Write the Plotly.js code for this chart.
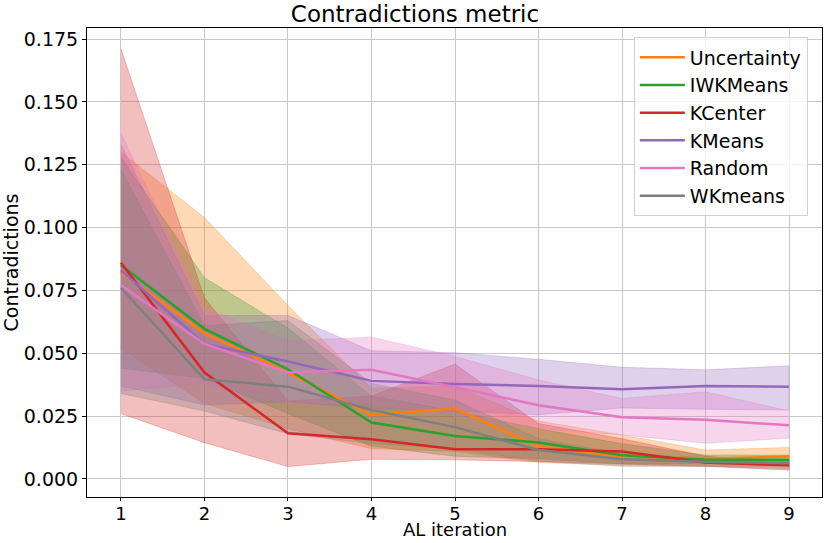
<!DOCTYPE html>
<html>
<head>
<meta charset="utf-8">
<script src="https://cdn.plot.ly/plotly-3.0.1.min.js"></script>
<style>
  html, body { margin: 0; padding: 0; background: #fff; }
  #plot { width: 830px; height: 543px; }
</style>
</head>
<body>
<div id="plot"></div>
<script>
// AL iterations
const iterations = [1, 2, 3, 4, 5, 6, 7, 8, 9];

// mean contradictions per strategy
const uncertaintyMean = [0.082, 0.058, 0.0423, 0.0255, 0.028, 0.0129, 0.0089, 0.0081, 0.0089];
const iwkmeansMean    = [0.085, 0.0597, 0.0436, 0.0224, 0.0171, 0.0145, 0.0094, 0.0076, 0.0076];
const kcenterMean     = [0.086, 0.0423, 0.0182, 0.0158, 0.0118, 0.0118, 0.0109, 0.0065, 0.0054];
const kmeansMean      = [0.083, 0.0537, 0.0467, 0.039, 0.0378, 0.037, 0.0357, 0.037, 0.0367];
const randomMean      = [0.077, 0.0537, 0.0423, 0.0434, 0.0365, 0.0293, 0.0245, 0.0235, 0.0213];
const wkmeansMean     = [0.076, 0.0396, 0.0367, 0.0274, 0.0206, 0.0115, 0.0078, 0.0068, 0.0062];

// upper / lower edges of the shaded bands
const uncertaintyUpper = [0.130, 0.104, 0.069, 0.036, 0.037, 0.023, 0.0175, 0.0115, 0.0125];
const uncertaintyLower = [0.052, 0.030, 0.020, 0.012, 0.011, 0.0065, 0.0055, 0.005, 0.005];
const iwkmeansUpper    = [0.128, 0.080, 0.060, 0.033, 0.027, 0.020, 0.014, 0.0095, 0.0095];
const iwkmeansLower    = [0.044, 0.040, 0.026, 0.013, 0.009, 0.008, 0.006, 0.006, 0.0055];
const kcenterUpper     = [0.171, 0.072, 0.031, 0.033, 0.0457, 0.022, 0.016, 0.009, 0.007];
const kcenterLower     = [0.026, 0.0144, 0.0049, 0.0078, 0.0076, 0.0069, 0.006, 0.005, 0.0035];
const kmeansUpper      = [0.133, 0.065, 0.065, 0.051, 0.0502, 0.0476, 0.0444, 0.0434, 0.045];
const kmeansLower      = [0.037, 0.0294, 0.0307, 0.028, 0.027, 0.0255, 0.0282, 0.0277, 0.0274];
const randomUpper      = [0.1375, 0.068, 0.055, 0.0564, 0.0487, 0.0394, 0.032, 0.0347, 0.027];
const randomLower      = [0.035, 0.038, 0.030, 0.030, 0.025, 0.020, 0.0175, 0.0142, 0.0162];
const wkmeansUpper     = [0.123, 0.061, 0.063, 0.038, 0.0314, 0.016, 0.010, 0.0085, 0.0075];
const wkmeansLower     = [0.034, 0.027, 0.018, 0.014, 0.012, 0.007, 0.005, 0.005, 0.004];

const names = ["Uncertainty", "IWKMeans", "KCenter", "KMeans", "Random", "WKmeans"];
const seriesColors = ["255,127,14", "44,160,44", "214,39,40", "148,103,189", "227,119,194", "127,127,127"];

const means  = [uncertaintyMean, iwkmeansMean, kcenterMean, kmeansMean, randomMean, wkmeansMean];
const uppers = [uncertaintyUpper, iwkmeansUpper, kcenterUpper, kmeansUpper, randomUpper, wkmeansUpper];
const lowers = [uncertaintyLower, iwkmeansLower, kcenterLower, kmeansLower, randomLower, wkmeansLower];

const data = [];

// bands first, so every line sits on top (like matplotlib zorder)
names.forEach(function (name, i) {
  data.push({
    x: iterations.concat(iterations.slice().reverse()),
    y: uppers[i].concat(lowers[i].slice().reverse()),
    type: "scatter",
    mode: "lines",
    fill: "toself",
    fillcolor: "rgba(" + seriesColors[i] + ",0.3)",
    line: { width: 0.8, color: "rgba(" + seriesColors[i] + ",0.35)" },
    hoverinfo: "skip",
    showlegend: false,
  });
});

names.forEach(function (name, i) {
  data.push({
    x: iterations,
    y: means[i],
    type: "scatter",
    mode: "lines",
    name: name,
    line: { color: "rgb(" + seriesColors[i] + ")", width: 2.5 },
  });
});

const axisCommon = {
  showline: true,
  mirror: true,
  linecolor: "#000",
  linewidth: 1,
  ticks: "outside",
  ticklen: 4,
  tickcolor: "#000",
  showgrid: true,
  gridcolor: "#c8c8c8",
  gridwidth: 1,
  zeroline: false,
  automargin: false,
  tickfont: { size: 19, color: "#000" },
};

const layout = {
  width: 830,
  height: 543,
  margin: { l: 87, r: 8, t: 28, b: 46 },
  paper_bgcolor: "#fff",
  plot_bgcolor: "#fff",
  font: { family: "DejaVu Sans, sans-serif", color: "#000" },
  title: {
    text: "Contradictions metric",
    font: { size: 23, color: "#000" },
    x: 0.5,
    xanchor: "center",
    y: 0.975,
    yanchor: "middle",
  },
  xaxis: Object.assign({}, axisCommon, {
    range: [0.593, 9.395],
    tickvals: iterations,
    ticklen: 3,
    ticklabelstandoff: -3,
    tickfont: { size: 18, color: "#000" },
  }),
  yaxis: Object.assign({}, axisCommon, {
    range: [-0.0072, 0.1794],
    tickvals: [0, 0.025, 0.05, 0.075, 0.1, 0.125, 0.15, 0.175],
    tickformat: ".3f",
    title: { text: "Contradictions", font: { size: 19 }, standoff: 4 },
  }),
  // x axis title placed by hand so it sits just under the tick labels
  annotations: [{
    text: "AL iteration",
    xref: "paper",
    yref: "paper",
    x: 0.5,
    y: -0.0935,
    xanchor: "center",
    yanchor: "bottom",
    borderpad: 0,
    showarrow: false,
    font: { size: 18, color: "#000" },
  }],
  legend: {
    x: 0.744,
    y: 0.98,
    xanchor: "left",
    yanchor: "top",
    bgcolor: "rgba(255,255,255,0.8)",
    bordercolor: "#d0d0d0",
    borderwidth: 1,
    font: { size: 19, color: "#000" },
    itemwidth: 45,
    tracegroupgap: 0,
  },
  showlegend: true,
};

Plotly.newPlot("plot", data, layout, { displayModeBar: false, staticPlot: true });
</script>
</body>
</html>
